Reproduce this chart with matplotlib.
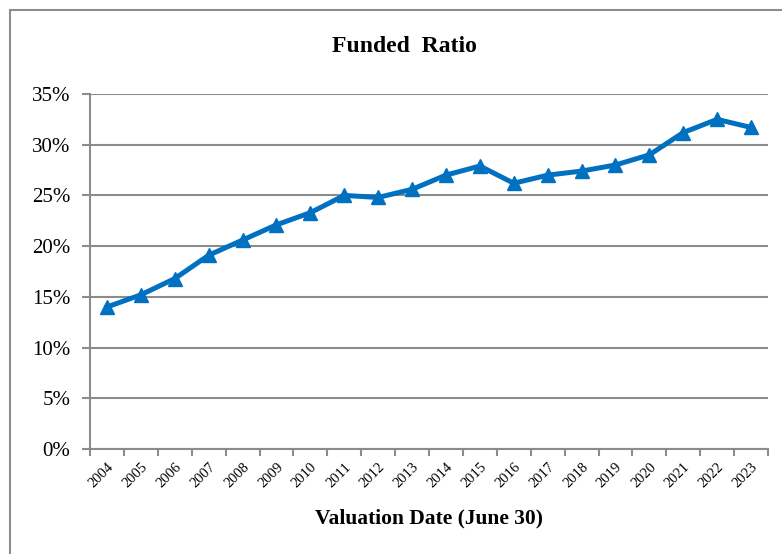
import matplotlib.pyplot as plt
from matplotlib.patches import Rectangle
from matplotlib.ticker import FuncFormatter

# Valuation years and funded ratio (%)
years = ['2004', '2005', '2006', '2007', '2008', '2009', '2010', '2011', '2012', '2013',
         '2014', '2015', '2016', '2017', '2018', '2019', '2020', '2021', '2022', '2023']
funded_ratio = [14.0, 15.2, 16.8, 19.1, 20.6, 22.1, 23.3, 25.0, 24.8, 25.6,
                27.0, 27.9, 26.2, 27.0, 27.4, 28.0, 29.0, 31.2, 32.5, 31.7]
y_ticks = [0, 5, 10, 15, 20, 25, 30, 35]

plt.rcParams['font.family'] = ['Liberation Serif', 'DejaVu Serif']

fig = plt.figure(figsize=(7.82, 5.54), dpi=100)
ax = fig.add_axes([90 / 782, 1 - 449 / 554, 678 / 782, 355 / 554])

# chart frame like the spreadsheet export
fig.patches.append(Rectangle((10 / 782, -0.05), 1.0, 1 - 10 / 554 + 0.05,
                             transform=fig.transFigure, fill=False,
                             edgecolor='#8c8c8c', linewidth=1.5))

x = range(len(years))
ax.plot(x, funded_ratio, color='#0070C0', linewidth=3.6, marker='^',
        markersize=10, markeredgecolor='#0070C0', zorder=3)

ax.set_xlim(-0.5, len(years) - 0.5)
ax.set_ylim(0, 35)
ax.set_yticks(y_ticks)
ax.yaxis.set_major_formatter(FuncFormatter(lambda v, p: f'{v:.0f}%'))
ax.set_xticks([i - 0.5 for i in range(len(years) + 1)], minor=False)
ax.set_xticklabels([])
ax.set_xticks(list(x), minor=True)
ax.set_xticklabels(years, minor=True, rotation=45, ha='right', va='top',
                   rotation_mode='anchor', fontsize=10.5)
ax.tick_params(axis='x', which='minor', length=0, pad=8)
ax.tick_params(axis='x', which='major', length=5, width=1.5, color='#8c8c8c')
ax.tick_params(axis='y', length=6, width=1.5, color='#8c8c8c', labelsize=15, pad=8)

ax.grid(axis='y', color='#8c8c8c', linewidth=1.5)
ax.set_axisbelow(True)
for side in ['top', 'right']:
    ax.spines[side].set_visible(False)
for side in ['left', 'bottom']:
    ax.spines[side].set_color('#8c8c8c')
    ax.spines[side].set_linewidth(1.5)

fig.text(404 / 782, 1 - 47 / 554, 'Funded  Ratio', ha='center', va='center',
         fontsize=17, fontweight='bold')
fig.text(429 / 782, 1 - 518 / 554, 'Valuation Date (June 30)', ha='center', va='center',
         fontsize=15.5, fontweight='bold')

fig.savefig('out.png', dpi=100)
